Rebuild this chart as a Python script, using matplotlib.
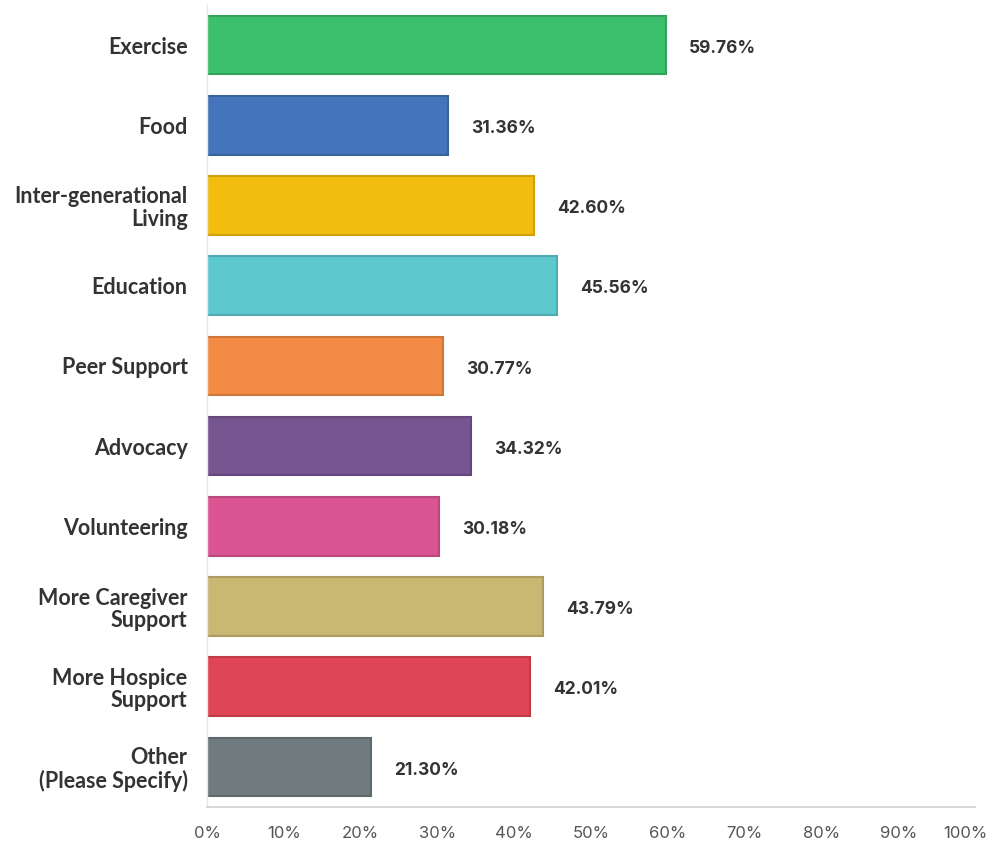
import matplotlib
matplotlib.use("Agg")
import matplotlib.pyplot as plt
import matplotlib.colors as mcolors
import matplotlib.transforms as mtransforms
from matplotlib.ticker import FixedLocator, FuncFormatter

categories = [
    "Exercise",
    "Food",
    "Inter-generational\nLiving",
    "Education",
    "Peer Support",
    "Advocacy",
    "Volunteering",
    "More Caregiver\nSupport",
    "More Hospice\nSupport",
    "Other\n(Please Specify)",
]
values = [59.76, 31.36, 42.60, 45.56, 30.77, 34.32, 30.18, 43.79, 42.01, 21.30]
colors = [
    "#3CC06C", "#4474BA", "#F2BD0F", "#5DC9CF", "#F48B45",
    "#775591", "#DB5593", "#C9B872", "#E04555", "#6F7B7E",
]
x_ticks = [0, 10, 20, 30, 40, 50, 60, 70, 80, 90, 100]


def darker(c, f=0.85):
    r, g, b = mcolors.to_rgb(c)
    return (r * f, g * f, b * f)


fig = plt.figure(figsize=(9.93, 8.44), dpi=100)
ax = fig.add_axes([0.2085, 0.0438, 0.7734, 0.9503])

ypos = list(range(len(categories)))
ax.barh(ypos, values, height=0.73, color=colors,
        edgecolor=[darker(c) for c in colors], linewidth=1.5)

for y, v in zip(ypos, values):
    ax.text(v + 3.0, y + 0.04, f"{v:.2f}%", va="center", ha="left",
            fontsize=12.5, fontweight="bold", color="#333333",
            family="Inter")

ax.set_xlim(0, 100)
ax.set_ylim(len(categories) - 0.5, -0.5)
ax.set_yticks(ypos)
ax.set_yticklabels(categories, fontsize=15.5, fontweight="bold",
                   color="#333333", family="Lato", linespacing=1.1)
ax.xaxis.set_major_locator(FixedLocator(x_ticks))
ax.xaxis.set_major_formatter(FuncFormatter(lambda v, p: f"{int(v)}%"))

ax.tick_params(axis="y", length=0, pad=14)
ax.tick_params(axis="x", length=0, pad=14)

for s in ["top", "right"]:
    ax.spines[s].set_visible(False)
ax.spines["left"].set_color("#E6E6E6")
ax.spines["left"].set_linewidth(1.0)
ax.spines["bottom"].set_color("#CFCFCF")
ax.spines["bottom"].set_linewidth(1.2)

fig.canvas.draw()
xlabels = ax.get_xticklabels()
for lab in xlabels:
    lab.set_family("Inter")
    lab.set_fontsize(12)
    lab.set_color("#555555")
# nudge the last tick label inward so it stays inside the figure
last = ax.xaxis.get_major_ticks()[-1].label1
last.set_transform(last.get_transform() +
                   mtransforms.ScaledTranslation(-10 / 100, 0, fig.dpi_scale_trans))

fig.savefig("out.png", dpi=100, facecolor="white")
